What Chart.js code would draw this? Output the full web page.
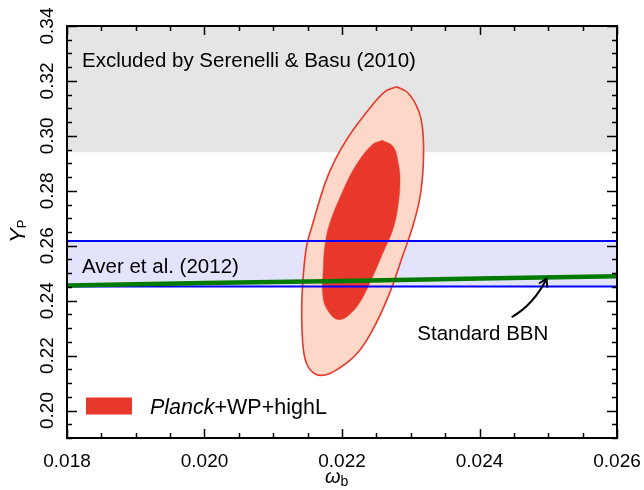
<!DOCTYPE html>
<html>
<head>
<meta charset="utf-8">
<script src="https://cdn.jsdelivr.net/npm/chart.js@4/dist/chart.umd.min.js"></script>
<style>
  html, body { margin: 0; padding: 0; background: #fff; }
  canvas { display: block; }
</style>
</head>
<body>
<canvas id="myChart" width="644" height="490"></canvas>
<script>
// axis ticks
const xTicks = [0.018, 0.020, 0.022, 0.024, 0.026];
const xTickLabels = ["0.018", "0.020", "0.022", "0.024", "0.026"];
const yTicks = [0.20, 0.22, 0.24, 0.26, 0.28, 0.30, 0.32, 0.34];
const yTickLabels = ["0.20", "0.22", "0.24", "0.26", "0.28", "0.30", "0.32", "0.34"];

// bands
const omegaRange = [0.018, 0.026];
const excludedYp = 0.294;          // Serenelli & Basu lower edge
const averYp = [0.2452, 0.2617];   // Aver et al. 2012

// standard BBN prediction
const bbnOmega = [0.018, 0.020, 0.022, 0.024, 0.026];
const bbnYp = [0.2455, 0.2464, 0.2472, 0.2481, 0.2489];

// Planck+WP+highL 95% contour
const outerOmega = [0.022796, 0.022964, 0.023110, 0.023174, 0.023183, 0.023135, 0.023025, 0.022868,
  0.022698, 0.022480, 0.022237, 0.021946, 0.021680, 0.021510, 0.021437, 0.021414, 0.021437,
  0.021487, 0.021559, 0.021753, 0.021898, 0.022092, 0.022383, 0.022625];
const outerYp = [0.3179, 0.3155, 0.3094, 0.3021, 0.2900, 0.2778, 0.2667, 0.2553,
  0.2431, 0.2310, 0.2213, 0.2152, 0.2128, 0.2158, 0.2225, 0.2371, 0.2492,
  0.2602, 0.2667, 0.2827, 0.2912, 0.2996, 0.3094, 0.3161];

// 68% contour
const innerOmega = [0.022586, 0.022746, 0.022819, 0.022844, 0.022819, 0.022746, 0.022601, 0.022432,
  0.022262, 0.022092, 0.021946, 0.021825, 0.021728, 0.021728, 0.021753, 0.021818, 0.021996,
  0.022189, 0.022432];
const innerYp = [0.2984, 0.2960, 0.2900, 0.2839, 0.2754, 0.2664, 0.2577, 0.2480,
  0.2395, 0.2346, 0.2331, 0.2353, 0.2407, 0.2517, 0.2602, 0.2678, 0.2790,
  0.2887, 0.2966];

const FONT = "'Liberation Sans', Arial, sans-serif";

const pts = (xs, ys) => xs.map((v, i) => ({ x: v, y: ys[i] }));
const closed = (xs, ys) => { const p = pts(xs, ys); p.push(p[0]); return p; };
const flat = (yv) => omegaRange.map((v) => ({ x: v, y: yv }));

const decorations = {
  id: "decorations",
  afterDatasetsDraw(chart) {
    const { ctx, chartArea: a } = chart;
    const x = chart.scales.x, y = chart.scales.y;
    ctx.save();
    ctx.fillStyle = "#000";
    ctx.strokeStyle = "#000";

    // text annotations
    ctx.font = "20.5px " + FONT;
    ctx.textAlign = "left";
    ctx.textBaseline = "alphabetic";
    ctx.fillText("Excluded by Serenelli & Basu (2010)", x.getPixelForValue(0.018218), y.getPixelForValue(0.32516));
    ctx.fillText("Aver et al. (2012)", x.getPixelForValue(0.018218), y.getPixelForValue(0.24995));
    ctx.fillText("Standard BBN", x.getPixelForValue(0.023095), y.getPixelForValue(0.22553));

    // arrow to BBN line
    const x0 = x.getPixelForValue(0.024468), y0 = y.getPixelForValue(0.2340);
    const x1 = x.getPixelForValue(0.024975), y1 = y.getPixelForValue(0.2480);
    const cx = x.getPixelForValue(0.024791), cy = y.getPixelForValue(0.2387);
    ctx.lineWidth = 2;
    ctx.beginPath();
    ctx.moveTo(x0, y0);
    ctx.quadraticCurveTo(cx, cy, x1, y1);
    ctx.stroke();
    const ang = Math.atan2(y1 - cy, x1 - cx);
    ctx.beginPath();
    ctx.moveTo(x1 - 9 * Math.cos(ang - 0.55), y1 - 9 * Math.sin(ang - 0.55));
    ctx.lineTo(x1, y1);
    ctx.lineTo(x1 - 9 * Math.cos(ang + 0.55), y1 - 9 * Math.sin(ang + 0.55));
    ctx.stroke();

    // legend
    ctx.fillStyle = "#e8382b";
    const lx0 = x.getPixelForValue(0.018276), lx1 = x.getPixelForValue(0.018945);
    const ly0 = y.getPixelForValue(0.20475), ly1 = y.getPixelForValue(0.19855);
    ctx.fillRect(lx0, ly0, lx1 - lx0, ly1 - ly0);
    ctx.fillStyle = "#000";
    let tx = x.getPixelForValue(0.019207);
    const ty = y.getPixelForValue(0.1988);
    ctx.font = "italic 21.5px " + FONT;
    ctx.fillText("Planck", tx, ty);
    tx += ctx.measureText("Planck").width;
    ctx.font = "21.5px " + FONT;
    ctx.fillText("+WP+highL", tx, ty);

    // frame
    ctx.lineWidth = 2;
    ctx.strokeRect(a.left, a.top, a.right - a.left, a.bottom - a.top);

    // ticks, inward on all four sides
    ctx.lineWidth = 1.5;
    ctx.beginPath();
    for (let i = 0; i <= 16; i++) {
      const v = 0.018 + i * 0.0005;
      const px = Math.round(x.getPixelForValue(v)) + 0.5;
      const len = i % 4 === 0 ? 9 : 5;
      ctx.moveTo(px, a.bottom); ctx.lineTo(px, a.bottom - len);
      ctx.moveTo(px, a.top); ctx.lineTo(px, a.top + len);
    }
    for (let i = 0; i <= 30; i++) {
      const v = 0.19 + i * 0.005;
      const py = Math.round(y.getPixelForValue(v)) + 0.5;
      const len = i % 4 === 2 ? 10 : 5;
      ctx.moveTo(a.left, py); ctx.lineTo(a.left + len, py);
      ctx.moveTo(a.right, py); ctx.lineTo(a.right - len, py);
    }
    ctx.stroke();

    // tick labels
    ctx.font = "19px " + FONT;
    ctx.textAlign = "center";
    ctx.textBaseline = "alphabetic";
    xTicks.forEach((v, i) => ctx.fillText(xTickLabels[i], x.getPixelForValue(v), a.bottom + 29));
    yTicks.forEach((v, i) => {
      ctx.save();
      ctx.translate(a.left - 14, y.getPixelForValue(v));
      ctx.rotate(-Math.PI / 2);
      ctx.fillText(yTickLabels[i], 0, 0);
      ctx.restore();
    });

    // axis titles
    ctx.textAlign = "left";
    const midY = (a.top + a.bottom) / 2;
    ctx.save();
    ctx.translate(25, midY + 11);
    ctx.rotate(-Math.PI / 2);
    ctx.font = "italic 22px " + FONT;
    ctx.fillText("Y", 0, 0);
    const wY = ctx.measureText("Y").width;
    ctx.font = "13px " + FONT;
    ctx.fillText("P", wY, 1);
    ctx.restore();

    const midX = (a.left + a.right) / 2;
    ctx.font = "italic 20px " + FONT;
    const wO = ctx.measureText("\u03c9").width;
    ctx.fillText("\u03c9", midX - 17, a.bottom + 45);
    ctx.font = "14px " + FONT;
    ctx.fillText("b", midX - 17 + wO, a.bottom + 48);
    ctx.restore();
  }
};

new Chart("myChart", {
  type: "scatter",
  data: {
    datasets: [
      { data: flat(excludedYp), showLine: true, borderWidth: 0, pointRadius: 0,
        fill: "end", backgroundColor: "#e5e5e5", order: 10 },
      { data: flat(averYp[0]), showLine: true, borderWidth: 0, pointRadius: 0,
        fill: false, order: 9 },
      { data: flat(averYp[1]), showLine: true, borderWidth: 0, pointRadius: 0,
        fill: 1, backgroundColor: "#e3e3fb", order: 8 },
      { data: closed(outerOmega, outerYp), showLine: true, borderColor: "#e8382b", borderWidth: 1.6,
        pointRadius: 0, tension: 0.4, fill: "shape", backgroundColor: "#fdd8c8", order: 6 },
      { data: closed(innerOmega, innerYp), showLine: true, borderColor: "#e8382b", borderWidth: 0.5,
        pointRadius: 0, tension: 0.4, fill: "shape", backgroundColor: "#e8382b", order: 5 },
      { data: flat(averYp[0]), showLine: true, borderColor: "#0000ff", borderWidth: 2,
        pointRadius: 0, fill: false, order: 3 },
      { data: flat(averYp[1]), showLine: true, borderColor: "#0000ff", borderWidth: 2,
        pointRadius: 0, fill: false, order: 3 },
      { data: pts(bbnOmega, bbnYp), showLine: true, borderColor: "#007a00", borderWidth: 4.5,
        pointRadius: 0, fill: false, order: 1 },
    ],
  },
  options: {
    responsive: false,
    animation: false,
    devicePixelRatio: 1,
    layout: { padding: { left: 67, right: 27, top: 26, bottom: 52 } },
    plugins: { legend: { display: false }, tooltip: { enabled: false } },
    scales: {
      x: { type: "linear", min: 0.018, max: 0.026, display: false },
      y: { type: "linear", min: 0.19, max: 0.34, display: false },
    },
  },
  plugins: [decorations],
});
</script>
</body>
</html>
